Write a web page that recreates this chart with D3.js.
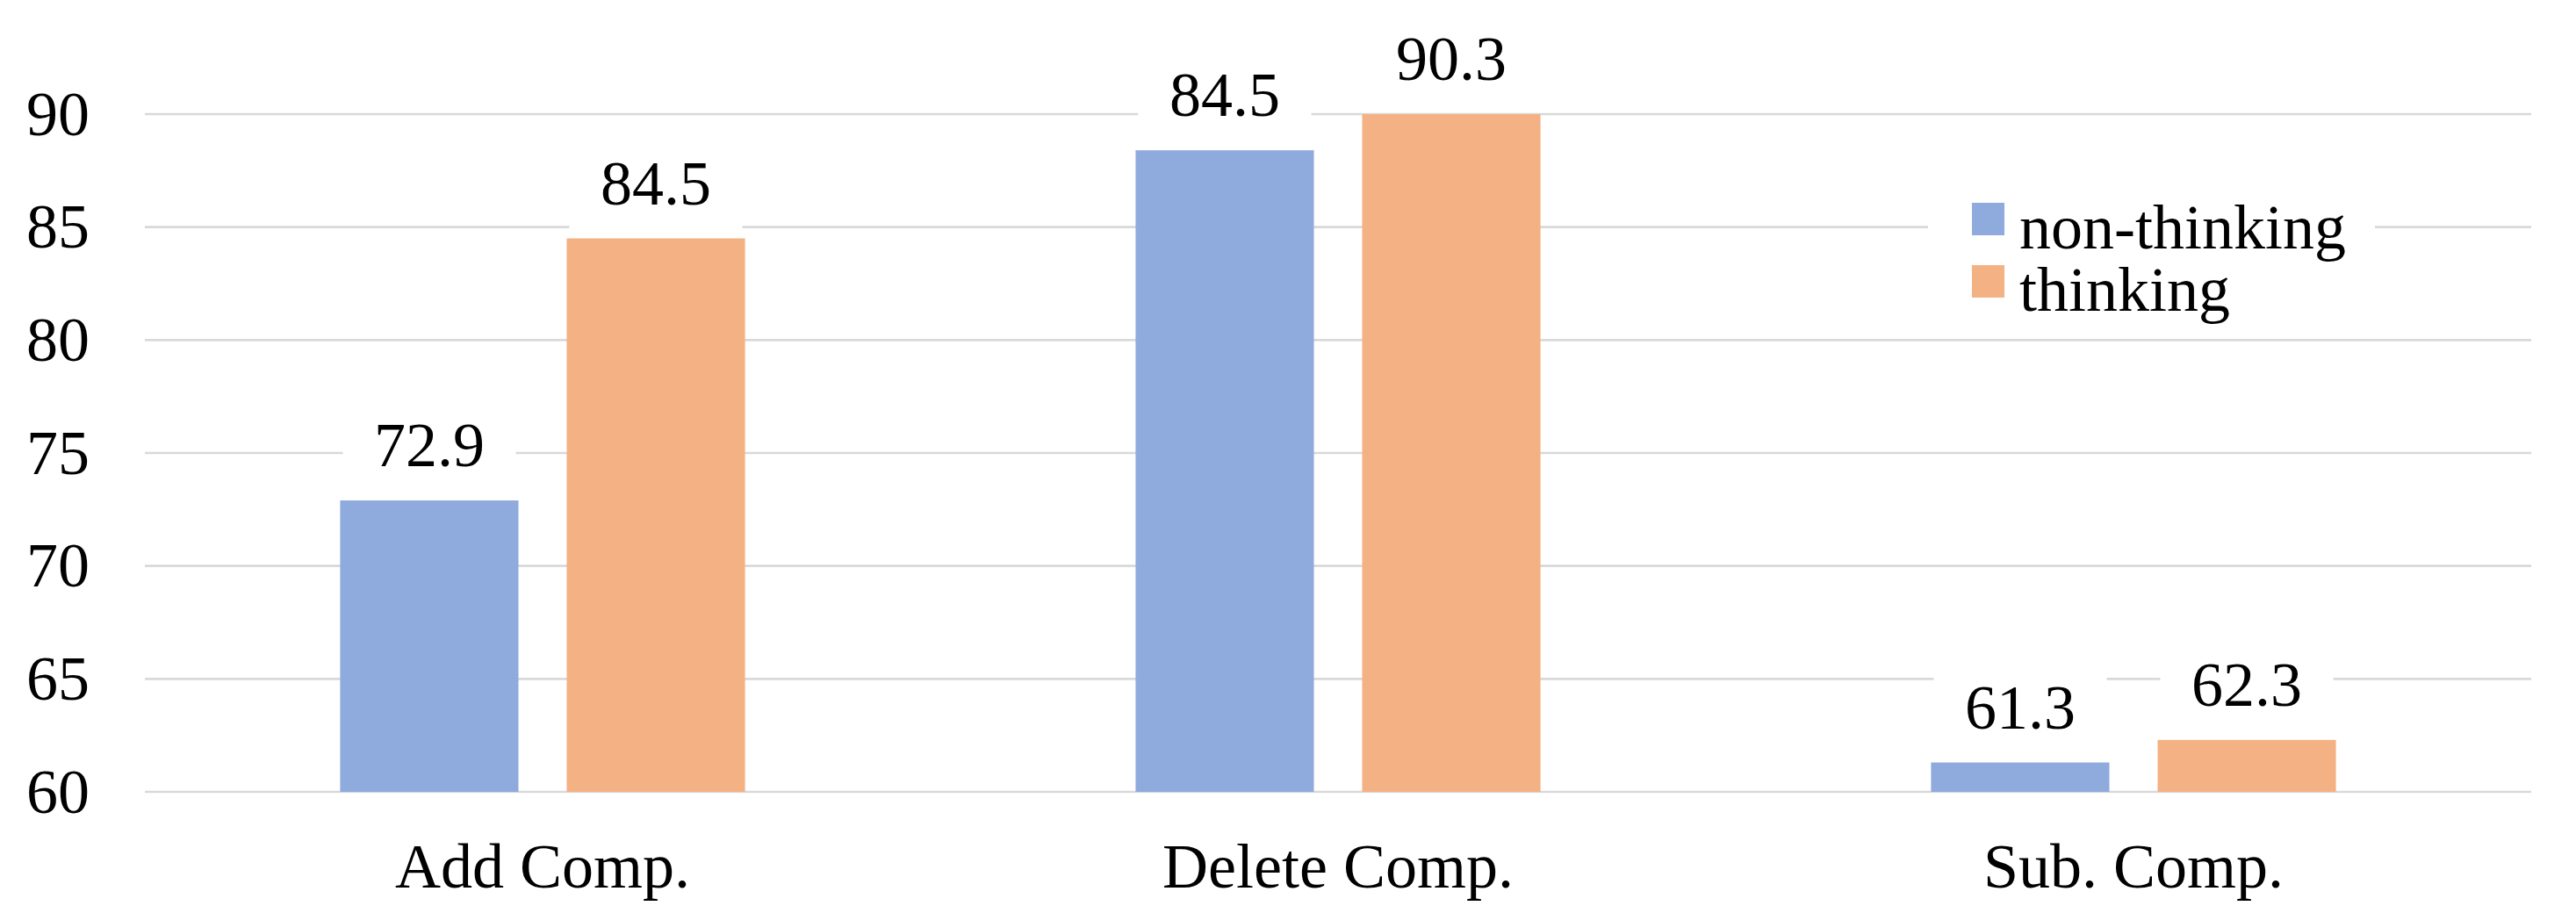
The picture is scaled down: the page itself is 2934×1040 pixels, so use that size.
<!DOCTYPE html>
<html>
<head>
  <meta charset="utf-8">
  <title>non-thinking vs thinking</title>
  <style>
    body { margin: 0; background: #fff; }
    text { font-family: "Liberation Serif", "Times New Roman", serif; fill: #000; }
  </style>
</head>
<body>
  <script src="https://d3js.org/d3.v7.min.js"></script>
  <script type="text/javascript">
 // data
 var categories  = ["Add Comp.", "Delete Comp.", "Sub. Comp."];
 var seriesNames = ["non-thinking", "thinking"];
 var nonThinking = [72.9, 88.4, 61.3];
 var thinking    = [84.5, 90.3, 62.3];
 var nonThinkingLabels = ["72.9", "84.5", "61.3"];
 var thinkingLabels    = ["84.5", "90.3", "62.3"];
 var yTicks = [60, 65, 70, 75, 80, 85, 90];
 var colors = ["#8FAADC", "#F4B183"];

 var margin = {top: 130, right: 51, bottom: 138, left: 165},
     width  = 2934 - margin.left - margin.right,
     height = 1040 - margin.top  - margin.bottom;

 var svg = d3.select("body")
            .append("svg")
            .attr("width",  width + margin.left + margin.right)
            .attr("height", height + margin.top + margin.bottom);

 var chart = svg.append("g")
     .attr("transform", "translate(" + margin.left + "," + margin.top + ")");

 var values = [nonThinking, thinking];
 var labels = [nonThinkingLabels, thinkingLabels];

 var data = categories.map(function(c, i){
   return {
     cat: c,
     bars: seriesNames.map(function(s, j){
       return {series: s, idx: j, value: values[j][i], label: labels[j][i]};
     })
   };
 });

 var y = d3.scaleLinear()
     .range([height, 0])
     .domain([60, 90])
     .clamp(true);

 var x0 = d3.scaleBand()
     .range([0, width])
     .domain(categories)
     .paddingInner(0.491)
     .paddingOuter(0.2455);

 var x1 = d3.scaleBand()
     .range([0, x0.bandwidth()])
     .domain(seriesNames)
     .paddingInner(0.213);

 // gridlines
 chart.append("g")
      .selectAll("line")
      .data(yTicks)
      .enter()
      .append("line")
      .attr("x1", 0)
      .attr("x2", width)
      .attr("y1", function(d){ return y(d); })
      .attr("y2", function(d){ return y(d); })
      .attr("stroke", "#d9d9d9")
      .attr("stroke-width", 2.6);

 // y tick labels
 var yAxis = chart.append("g")
     .call(d3.axisLeft(y).tickValues(yTicks).tickSize(0).tickPadding(63));
 yAxis.select(".domain").remove();
 yAxis.selectAll("text")
      .attr("font-size", "72px")
      .attr("font-family", "Liberation Serif")
      .attr("fill", "#000");

 // x category labels
 var xAxis = chart.append("g")
     .attr("transform", "translate(0," + height + ")")
     .call(d3.axisBottom(x0).tickSize(0).tickPadding(0));
 xAxis.select(".domain").remove();
 xAxis.selectAll("text")
      .attr("font-size", "72px")
      .attr("font-family", "Liberation Serif")
      .attr("fill", "#000")
      .attr("dy", null)
      .attr("y", 109);

 var groups = chart.selectAll(".group")
      .data(data)
      .enter()
      .append("g")
      .attr("class", "group")
      .attr("transform", function(d){ return "translate(" + x0(d.cat) + ",0)"; });

 groups.selectAll(".bar")
      .data(function(d){ return d.bars; })
      .enter()
      .append("rect")
      .attr("class", "bar")
      .attr("x", function(d){ return x1(d.series); })
      .attr("y", function(d){ return y(d.value); })
      .attr("width", x1.bandwidth())
      .attr("height", function(d){ return height - y(d.value); })
      .attr("fill", function(d){ return colors[d.idx]; });

 // value labels with white boxes that cut the gridlines
 var lab = groups.selectAll(".lab")
      .data(function(d){ return d.bars; })
      .enter()
      .append("g")
      .attr("class", "lab")
      .attr("transform", function(d){
        return "translate(" + (x1(d.series) + x1.bandwidth() / 2) + "," + (y(d.value) - 39) + ")";
      });

 lab.append("rect")
    .attr("x", -x1.bandwidth() / 2 + 3)
    .attr("y", -63)
    .attr("width", x1.bandwidth() - 6)
    .attr("height", 91)
    .attr("fill", "#fff");

 lab.append("text")
    .attr("text-anchor", "middle")
    .attr("font-size", "72px")
    .text(function(d){ return d.label; });

 // legend
 var legend = svg.append("g")
     .attr("transform", "translate(2196,215)");

 legend.append("rect")
     .attr("width", 509)
     .attr("height", 160)
     .attr("fill", "#fff");

 var item = legend.selectAll(".item")
     .data(seriesNames)
     .enter()
     .append("g")
     .attr("class", "item")
     .attr("transform", function(d, i){ return "translate(0," + (i * 71) + ")"; });

 item.append("rect")
     .attr("x", 50)
     .attr("y", 16)
     .attr("width", 37)
     .attr("height", 37)
     .attr("fill", function(d, i){ return colors[i]; });

 item.append("text")
     .attr("x", 104)
     .attr("y", 68)
     .attr("font-size", "72px")
     .text(function(d){ return d; });
  </script>
</body>
</html>
